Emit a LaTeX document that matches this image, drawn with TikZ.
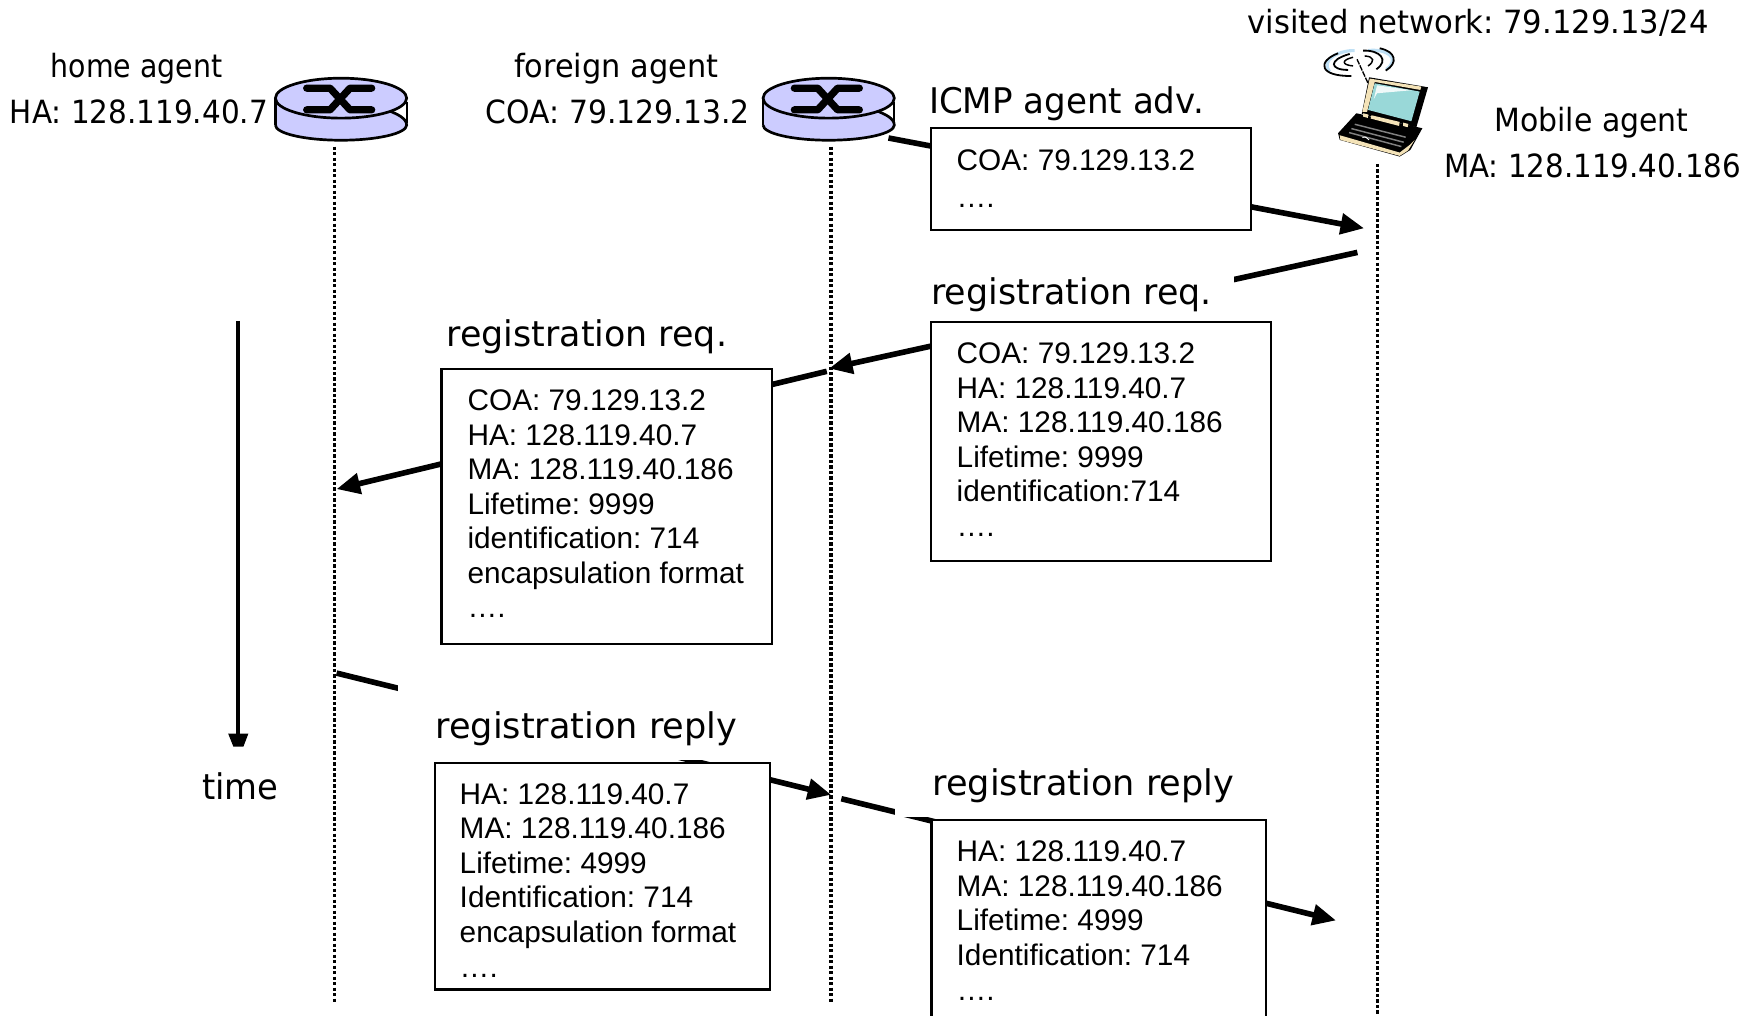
\documentclass[tikz,border=0pt]{standalone}
\usepackage{fontspec}
\usepackage{graphicx}
\setmainfont{Liberation Sans}
\newfontfamily\labelfont{DejaVu Sans}
\usetikzlibrary{arrows.meta}
\definecolor{routerfill}{HTML}{CCCCFF}
\definecolor{screencyan}{HTML}{99D8D8}
\definecolor{beige}{HTML}{F4E3B8}
\definecolor{wavecol}{HTML}{BFE0F5}
\newcommand{\fitw}[2]{\resizebox{#1pt}{\height}{#2}}
\frenchspacing
\tikzset{
  x=1pt,y=-1pt,
  lab/.style={font=\labelfont\fontsize{28.5}{30}\selectfont,anchor=base west,inner sep=0pt},
  biglab/.style={font=\labelfont\fontsize{31.5}{34}\selectfont,anchor=base west,inner sep=0pt},
  msgbox/.style={draw=black,line width=1.9pt,fill=white,anchor=north west,inner sep=0pt,outer sep=0pt},
  msgtext/.style={font=\fontsize{26.55}{30.75}\selectfont,align=left,anchor=north west,inner sep=0pt},
  lifeline/.style={line width=3pt,dash pattern=on 2.9pt off 2pt},
  msgarrow/.style={line width=5pt,-{Triangle[length=21pt,width=18pt]}},
  routericon/.pic={
    \fill[white] (-58.5,0) -- (-58.5,24) arc[x radius=58.5,y radius=13.5,start angle=180,end angle=0] -- (58.5,0) -- cycle;
    \fill[routerfill] (-58.5,0) -- (-58.5,24) arc[x radius=58.5,y radius=13.5,start angle=180,end angle=0] .. controls (58.5,18) and (50,14) .. (42,11) -- (0,10) -- cycle;
    \draw[line width=2pt] (-58.5,0) -- (-58.5,24);
    \draw[line width=1.6pt] (58.5,3) -- (58.5,22);
    \draw[line width=2.4pt] (-58.5,24) arc[x radius=58.5,y radius=13.5,start angle=180,end angle=0] .. controls (58.5,18) and (50,14) .. (42,11);
    \draw[line width=2.4pt,fill=routerfill] (0,0) circle[x radius=58.5,y radius=17.8];
    \draw[line width=6.5pt,line cap=round,line join=round] (-30.6,-8.9) -- (-9.8,-8.9) -- (8,10.4) -- (27.3,10.4);
    \draw[line width=6.5pt,line cap=round,line join=round] (27.3,-8.9) -- (8,-8.9) -- (-9.8,10.4) -- (-30.6,10.4);
    \coordinate (-foot) at (0,43.2);
  }
}
\begin{document}
\begin{tikzpicture}
\useasboundingbox (0,0) rectangle (1568,905.6);
\clip (0,0) rectangle (1568,905.6);

% routers
\pic (ha) at (304,87.5) {routericon};
\pic (fa) at (738.7,87.5) {routericon};

% laptop
\begin{scope}[shift={(1158.6,26.7)},x=0.297pt,y=-0.297pt]
  \draw[wavecol,line width=2.8pt] (90,125) .. controls (60,90) and (120,60) .. (165,62);
  \draw[wavecol,line width=2.8pt] (205,62) .. controls (260,55) and (305,85) .. (260,118);
  \draw[line width=1.6pt] (155,138) .. controls (60,140) and (50,95) .. (115,70);
  \draw[line width=1.6pt] (145,120) .. controls (90,120) and (85,90) .. (150,72);
  \draw[line width=1.3pt] (160,108) .. controls (125,105) and (125,90) .. (160,82);
  \draw[line width=1.6pt] (190,62) .. controls (240,60) and (270,90) .. (230,118);
  \draw[line width=1.3pt] (195,78) .. controls (225,80) and (225,95) .. (205,108);
  \draw[line width=1.6pt] (240,55) .. controls (290,65) and (295,100) .. (258,122);
  \draw[line width=1.2pt,dash pattern=on 5pt off 1pt] (172,88) -- (205,160);
  % lid
  \fill[black] (208,142) -- (385,172) -- (350,292) -- (186,252) -- cycle;
  \fill[beige] (210,146) -- (365,170) -- (362,180) -- (225,156) -- (202,246) -- (188,246) -- cycle;
  \fill[screencyan] (225,160) -- (360,185) -- (335,274) -- (205,240) -- cycle;
  \fill[white!85!screencyan] (232,166) -- (335,181) -- (232,190) -- (222,208) -- cycle;
  % base
  \fill[black] (170,250) -- (368,295) -- (332,360) -- (300,380) -- (120,330) -- (115,310) -- cycle;
  \fill[beige] (120,316) -- (300,368) -- (330,345) -- (345,330) -- (325,362) -- (300,378) -- (122,330) -- cycle;
  \fill[beige] (190,250) -- (206,254) -- (204,264) -- (190,260) -- cycle;
  \fill[beige] (215,256) -- (300,276) -- (298,288) -- (213,266) -- cycle;
  \fill[beige] (310,278) -- (326,282) -- (324,292) -- (310,288) -- cycle;
  \draw[gray,line width=1.3pt] (165,283) -- (318,322);
  \draw[gray,line width=1.3pt] (155,296) -- (312,337);
  \draw[gray,line width=1.3pt] (148,308) -- (305,350);
  \draw[white,line width=0.8pt] (188,323) .. controls (195,318) and (205,325) .. (208,330);
\end{scope}

% named connector end points
\coordinate (advStart) at (792,123);
\coordinate (advEnd) at (1216,203.5);
\coordinate (reqMA) at (1210,225);
\coordinate (reqFA) at (739,328.5);
\coordinate (reqFAout) at (737,331);
\coordinate (reqHA) at (300,436);
\coordinate (repHA) at (300,600);
\coordinate (repFA) at (741,708.5);
\coordinate (repFAout) at (750,712);
\coordinate (repMA) at (1191,820.5);
\coordinate (timeTop) at (212.4,286);
\coordinate (timeEnd) at (212.4,660);
\coordinate (haEnd) at (298.3,893);
\coordinate (faEnd) at (740.8,893);
\coordinate (maTop) at (1228,146);
\coordinate (maEnd) at (1228,905.6);

% life lines
\draw[lifeline] (ha-foot -| haEnd) -- (haEnd);
\draw[lifeline] (fa-foot -| faEnd) -- (faEnd);
\draw[lifeline] (maTop) -- (maEnd);

% time
\draw[line width=3.8pt] (timeTop) -- (timeEnd);
\fill (203.4,654) -- (221.4,654) -- (217,665.5) -- (208,665.5) -- cycle;

% messages
\draw[msgarrow] (advStart) -- (advEnd);
\draw[msgarrow] (reqMA) -- (reqFA);
\draw[msgarrow] (reqFAout) -- (reqHA);
\draw[msgarrow] (repHA) -- (repFA);
\draw[msgarrow] (repFAout) -- (repMA);

% white label backgrounds hide the messages
\fill[white] (829,236) rectangle (1100,288);
\fill[white] (355,608) rectangle (662,677.5);
\fill[white] (798,680) rectangle (1105,728.5);

% boxes
\node[msgbox,minimum width=285.5pt,minimum height=91pt] (boxAdv) at (829.6,114) {};
\node[msgbox,minimum width=303.5pt,minimum height=213pt] (boxReqR) at (829.6,287) {};
\node[msgbox,minimum width=294.5pt,minimum height=245pt] (boxReqL) at (393.6,329) {};
\node[msgbox,minimum width=298.5pt,minimum height=202pt] (boxRepL) at (387.6,680) {};
\node[msgbox,minimum width=298.5pt,minimum height=190pt] (boxRepR) at (830.4,731) {};

\node[msgtext] (txtAdv) at (852.6,133.5) {COA: 79.129.13.2\\[2pt]….};
\node[msgtext] (txtReqR) at (852.6,305.5) {COA: 79.129.13.2\\HA: 128.119.40.7\\MA: 128.119.40.186\\Lifetime: 9999\\identification:714\\[0.5pt]….};
\node[msgtext] (txtReqL) at (416.6,347.3) {COA: 79.129.13.2\\HA: 128.119.40.7\\MA: 128.119.40.186\\Lifetime: 9999\\identification: 714\\encapsulation format\\….};
\node[msgtext] (txtRepL) at (409.6,698) {HA: 128.119.40.7\\MA: 128.119.40.186\\Lifetime: 4999\\Identification: 714\\encapsulation format\\[0.5pt]….};
\node[msgtext] (txtRepR) at (852.6,749.5) {HA: 128.119.40.7\\MA: 128.119.40.186\\Lifetime: 4999\\Identification: 714\\[1pt]….};

% labels
\node[lab] (lHome) at (45,69) {\fitw{153}{home agent}};
\node[lab] (lHA) at (8.7,110.5) {\fitw{230}{HA: 128.119.40.7}};
\node[lab] (lForeign) at (458,69) {\fitw{182}{foreign agent}};
\node[lab] (lCOA) at (433,110.5) {\fitw{235}{COA: 79.129.13.2}};
\node[lab] (lVisited) at (1112,30.3) {\fitw{411}{visited network: 79.129.13/24}};
\node[lab] (lMobile) at (1332,117) {\fitw{173}{Mobile agent}};
\node[lab] (lMA) at (1287,158) {\fitw{265}{MA: 128.119.40.186}};
\node[biglab] (lICMP) at (828,101) {\fitw{245}{ICMP agent adv.}};
\node[biglab] (lReqR) at (830,271) {\fitw{250}{registration req.}};
\node[biglab] (lReqL) at (398,309) {\fitw{250}{registration req.}};
\node[biglab] (lRepL) at (388,658) {\fitw{269}{registration reply}};
\node[biglab] (lRepR) at (831,709) {\fitw{269}{registration reply}};
\node[biglab] (lTime) at (180,713) {\fitw{68}{time}};
\end{tikzpicture}
\end{document}
